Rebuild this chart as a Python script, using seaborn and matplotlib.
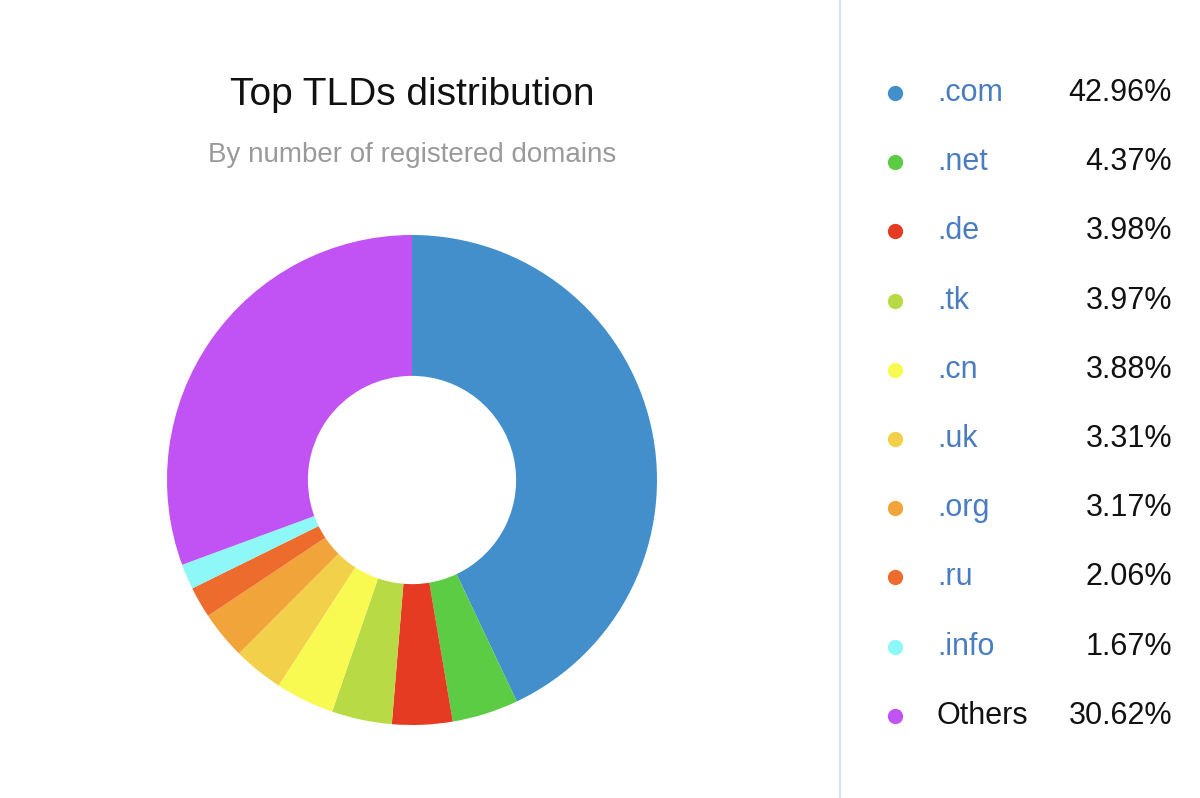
import matplotlib
matplotlib.use("Agg")
import matplotlib.pyplot as plt
import seaborn as sns

labels = [".com", ".net", ".de", ".tk", ".cn", ".uk", ".org", ".ru", ".info", "Others"]
shares = [42.96, 4.37, 3.98, 3.97, 3.88, 3.31, 3.17, 2.06, 1.67, 30.62]
colors = ["#438fcc", "#5ccc45", "#e63b23", "#b8db45", "#f8fa52",
          "#f3d04a", "#f0a43a", "#ee6b2e", "#8ef7f7", "#c153f5"]

sns.set_theme(style="white")
plt.rcParams['font.family'] = ['Liberation Sans', 'DejaVu Sans']

fig = plt.figure(figsize=(12, 7.98), dpi=100)
fig.patch.set_facecolor("white")

# donut: centre (412, 480) px, radius 245 px
cx, cy, r = 412, 480, 245
ax = fig.add_axes([(cx - r) / 1200, (798 - cy - r) / 798, 2 * r / 1200, 2 * r / 798])
ax.pie(shares, colors=colors, startangle=90, counterclock=False,
       wedgeprops=dict(width=0.575, edgecolor="none"))
ax.set_xlim(-1, 1)
ax.set_ylim(-1, 1)
ax.set_aspect("equal")
ax.axis("off")

fig.text(412 / 1200, 1 - 95 / 798, "Top TLDs distribution", ha="center", va="center",
         fontsize=28, color="#111111")
fig.text(412 / 1200, 1 - 155 / 798, "By number of registered domains", ha="center",
         va="center", fontsize=20, color="#9a9a9a")

# divider
fig.add_artist(plt.Line2D([840 / 1200, 840 / 1200], [0, 1], color="#cfdfe3", lw=1.2))

# legend
for i, (lab, val, c) in enumerate(zip(labels, shares, colors)):
    y = 1 - (93 + i * 69.2) / 798
    fig.add_artist(plt.Line2D([895 / 1200], [y], marker="o", markersize=11,
                              color=c, markeredgecolor="none"))
    fig.text(937 / 1200, y, lab, ha="left", va="center", fontsize=22,
             color="#111111" if lab == "Others" else "#4a7cc0")
    fig.text(1172 / 1200, y, f"{val:.2f}%", ha="right", va="center",
             fontsize=22, color="#111111")

fig.savefig("out.png", dpi=100, facecolor="white")
